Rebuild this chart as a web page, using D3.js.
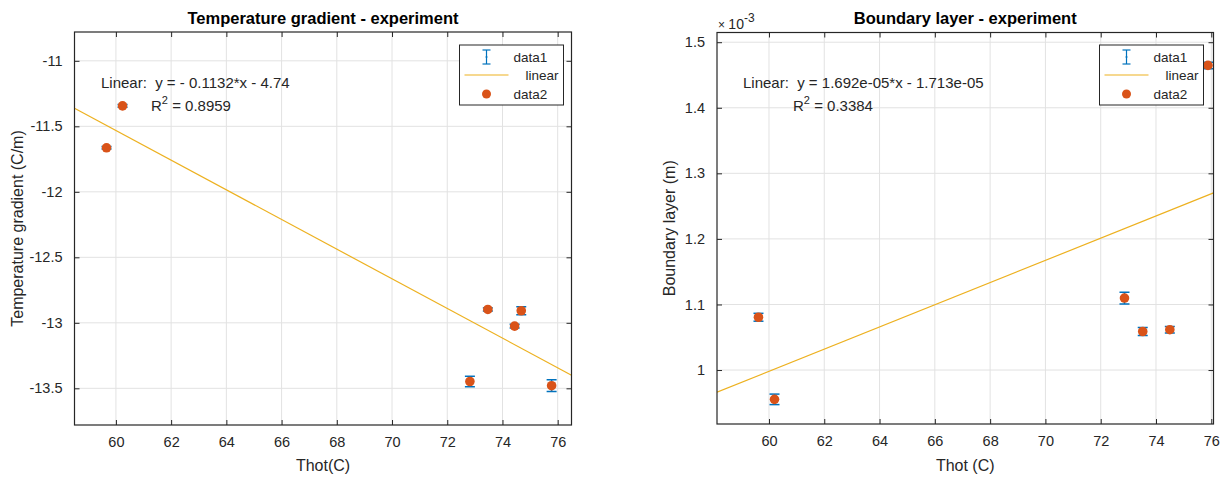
<!DOCTYPE html>
<html>
<head>
<meta charset="utf-8">
<script src="https://cdn.jsdelivr.net/npm/d3@7"></script>
<style>
  body { margin: 0; background: #fff; }
  svg { display: block; font-family: "Liberation Sans", Arial, Helvetica, sans-serif; }
</style>
</head>
<body>
<svg id="chart" width="1223" height="477"></svg>
<script>
// ---------- data ----------
const gradThot  = [59.66, 60.24, 72.82, 73.47, 74.44, 74.68, 75.78];
const gradValue = [-11.664, -11.344, -13.448, -12.898, -13.025, -12.908, -13.48];
const gradError = [0.010, 0.010, 0.040, 0.012, 0.014, 0.030, 0.045];
const gradFit = { slope: -0.1132, intercept: -4.74 };
const gradXTicks = [60, 62, 64, 66, 68, 70, 72, 74, 76];
const gradYTicks = [-11, -11.5, -12, -12.5, -13, -13.5];
const gradYTickLabels = ["-11", "-11.5", "-12", "-12.5", "-13", "-13.5"];

const blThot  = [59.62, 60.2, 72.86, 73.52, 74.5, 75.88];
const blValue = [1.0805e-3, 0.9553e-3, 1.1098e-3, 1.0588e-3, 1.0615e-3, 1.4646e-3];
const blError = [0.006e-3, 0.008e-3, 0.009e-3, 0.006e-3, 0.005e-3, 0.005e-3];
const blFit = { slope: 1.692e-05, intercept: -1.713e-05 };
const blXTicks = [60, 62, 64, 66, 68, 70, 72, 74, 76];
const blYTicks = [1.0e-3, 1.1e-3, 1.2e-3, 1.3e-3, 1.4e-3, 1.5e-3];
const blYTickLabels = ["1", "1.1", "1.2", "1.3", "1.4", "1.5"];

const legendLabels = ["data1", "linear", "data2"];

// ---------- styles ----------
const C_ERR = "#0072BD", C_DOT = "#D95319", C_FIT = "#EDB120";
const C_AX = "#262626", C_GRID = "#e2e2e2", C_TXT = "#262626";
const FS_TICK = 14.5, FS_TITLE = 16.5, FS_LABEL = 16, FS_ANN = 15, FS_LEG = 13.5;

const svg = d3.select("#chart");

function panel(cfg) {
  const g = svg.append("g");
  const x = d3.scaleLinear().domain(cfg.xDomain).range([cfg.left, cfg.right]);
  const y = d3.scaleLinear().domain(cfg.yDomain).range([cfg.bottom, cfg.top]);

  // grid
  g.append("g").selectAll("line").data(cfg.xTicks).join("line")
    .attr("x1", d => x(d)).attr("x2", d => x(d))
    .attr("y1", cfg.top).attr("y2", cfg.bottom)
    .attr("stroke", C_GRID).attr("stroke-width", 1);
  g.append("g").selectAll("line").data(cfg.yTicks).join("line")
    .attr("y1", d => y(d)).attr("y2", d => y(d))
    .attr("x1", cfg.left).attr("x2", cfg.right)
    .attr("stroke", C_GRID).attr("stroke-width", 1);

  // clip
  const clipId = "clip" + cfg.id;
  svg.append("clipPath").attr("id", clipId).append("rect")
    .attr("x", cfg.left).attr("y", cfg.top)
    .attr("width", cfg.right - cfg.left).attr("height", cfg.bottom - cfg.top);

  const plot = g.append("g").attr("clip-path", `url(#${clipId})`);

  // fit line
  const fx = cfg.xDomain;
  plot.append("line")
    .attr("x1", x(fx[0])).attr("y1", y(cfg.fit.slope * fx[0] + cfg.fit.intercept))
    .attr("x2", x(fx[1])).attr("y2", y(cfg.fit.slope * fx[1] + cfg.fit.intercept))
    .attr("stroke", C_FIT).attr("stroke-width", 1.2);

  const pts = cfg.xs.map((xv, i) => ({ x: xv, y: cfg.ys[i], e: cfg.es[i] }));
  // error bars
  const eb = plot.append("g").selectAll("g").data(pts).join("g")
    .attr("stroke", C_ERR).attr("stroke-width", 1.5);
  eb.append("line").attr("x1", d => x(d.x)).attr("x2", d => x(d.x))
    .attr("y1", d => y(d.y - d.e)).attr("y2", d => y(d.y + d.e));
  eb.append("line").attr("x1", d => x(d.x) - 5).attr("x2", d => x(d.x) + 5)
    .attr("y1", d => y(d.y - d.e)).attr("y2", d => y(d.y - d.e));
  eb.append("line").attr("x1", d => x(d.x) - 5).attr("x2", d => x(d.x) + 5)
    .attr("y1", d => y(d.y + d.e)).attr("y2", d => y(d.y + d.e));
  // dots
  plot.append("g").selectAll("circle").data(pts).join("circle")
    .attr("cx", d => x(d.x)).attr("cy", d => y(d.y)).attr("r", 4.8)
    .attr("fill", C_DOT);

  // box
  g.append("rect").attr("x", cfg.left).attr("y", cfg.top)
    .attr("width", cfg.right - cfg.left).attr("height", cfg.bottom - cfg.top)
    .attr("fill", "none").attr("stroke", C_AX).attr("stroke-width", 1.2);

  // axes (ticks inward) using d3 axes
  const xAxis = d3.axisBottom(x).tickValues(cfg.xTicks).tickSize(-5).tickPadding(12)
    .tickFormat(d3.format("d"));
  const xg = g.append("g").attr("transform", `translate(0,${cfg.bottom})`).call(xAxis);
  const xTop = d3.axisTop(x).tickValues(cfg.xTicks).tickSize(-5).tickFormat("");
  const xtg = g.append("g").attr("transform", `translate(0,${cfg.top})`).call(xTop);
  const yAxis = d3.axisLeft(y).tickValues(cfg.yTicks).tickSize(-5).tickPadding(12)
    .tickFormat((d, i) => cfg.yLabels[i]);
  const yg = g.append("g").attr("transform", `translate(${cfg.left},0)`).call(yAxis);
  const yRight = d3.axisRight(y).tickValues(cfg.yTicks).tickSize(-5).tickFormat("");
  const yrg = g.append("g").attr("transform", `translate(${cfg.right},0)`).call(yRight);
  [xg, xtg, yg, yrg].forEach(a => {
    a.select(".domain").remove();
    a.selectAll(".tick line").attr("stroke", C_AX).attr("stroke-width", 1);
    a.selectAll(".tick text").attr("fill", C_TXT).attr("font-size", FS_TICK)
      .attr("font-family", "Liberation Sans, Arial, sans-serif");
  });

  // title
  g.append("text").attr("x", (cfg.left + cfg.right) / 2).attr("y", 24)
    .attr("text-anchor", "middle").attr("font-weight", "bold").attr("font-size", FS_TITLE)
    .attr("fill", "#000").text(cfg.title);
  // x label
  g.append("text").attr("x", (cfg.left + cfg.right) / 2).attr("y", 471)
    .attr("text-anchor", "middle").attr("font-size", FS_LABEL).attr("fill", C_TXT).text(cfg.xLabel);
  // y label
  g.append("text")
    .attr("transform", `translate(${cfg.yLabelX},${(cfg.top + cfg.bottom) / 2}) rotate(-90)`)
    .attr("text-anchor", "middle").attr("font-size", FS_LABEL).attr("fill", C_TXT).text(cfg.yLabel);

  // annotation
  g.append("text").attr("x", cfg.annX).attr("y", 87.5).attr("font-size", FS_ANN)
    .attr("fill", C_TXT).attr("xml:space", "preserve").text(cfg.eq);
  const r = g.append("text").attr("x", cfg.annX + cfg.rOff).attr("y", 110.5)
    .attr("font-size", FS_ANN).attr("fill", C_TXT);
  r.append("tspan").text("R");
  r.append("tspan").attr("dy", -7).attr("font-size", 11).text("2");
  r.append("tspan").attr("dy", 7).text(" = " + cfg.r2);

  // legend
  const lx = cfg.legX, ly = 45, lw = 104, lh = 60;
  const lg = g.append("g");
  lg.append("rect").attr("x", lx).attr("y", ly).attr("width", lw).attr("height", lh)
    .attr("fill", "#fff").attr("stroke", C_AX).attr("stroke-width", 1);
  const ix = lx + 27;
  // errorbar icon
  lg.append("line").attr("x1", ix).attr("x2", ix).attr("y1", ly + 5).attr("y2", ly + 19)
    .attr("stroke", C_ERR).attr("stroke-width", 1.2);
  lg.append("line").attr("x1", ix - 4).attr("x2", ix + 4).attr("y1", ly + 5).attr("y2", ly + 5)
    .attr("stroke", C_ERR).attr("stroke-width", 1.2);
  lg.append("line").attr("x1", ix - 4).attr("x2", ix + 4).attr("y1", ly + 19).attr("y2", ly + 19)
    .attr("stroke", C_ERR).attr("stroke-width", 1.2);
  lg.append("circle").attr("cx", ix).attr("cy", ly + 12).attr("r", 1).attr("fill", C_ERR);
  // line icon
  lg.append("line").attr("x1", lx + 5).attr("x2", lx + 49).attr("y1", ly + 30).attr("y2", ly + 30)
    .attr("stroke", C_FIT).attr("stroke-width", 1.2);
  // dot icon
  lg.append("circle").attr("cx", ix).attr("cy", ly + 49).attr("r", 4.5).attr("fill", C_DOT);
  const labelX = [lx + 54, lx + 66, lx + 54];
  const labelY = [ly + 17, ly + 35, ly + 54];
  lg.selectAll("text").data(legendLabels).join("text")
    .attr("x", (d, i) => labelX[i]).attr("y", (d, i) => labelY[i])
    .attr("font-size", FS_LEG).attr("fill", C_TXT).text(d => d);

  if (cfg.exponent) {
    const t = g.append("text").attr("x", cfg.left + 1).attr("y", 28.5).attr("font-size", 14)
      .attr("fill", C_TXT).attr("xml:space", "preserve");
    t.append("tspan").attr("font-size", 12).text("\u00d7 ");
    t.append("tspan").text("10");
    t.append("tspan").attr("dy", -7).attr("font-size", 12).text(cfg.exponent);
  }
}

panel({
  id: "a", left: 74.5, right: 571.5, top: 32, bottom: 425,
  xDomain: [58.5, 76.5], yDomain: [-13.78, -10.78],
  xTicks: gradXTicks, yTicks: gradYTicks, yLabels: gradYTickLabels,
  xs: gradThot, ys: gradValue, es: gradError, fit: gradFit,
  title: "Temperature gradient - experiment", xLabel: "Thot(C)",
  yLabel: "Temperature gradient (C/m)", yLabelX: 23,
  annX: 101, rOff: 50, eq: "Linear:  y = - 0.1132*x - 4.74", r2: "0.8959",
  legX: 459.5
});

panel({
  id: "b", left: 717, right: 1213.5, top: 32.5, bottom: 424,
  xDomain: [58.12, 76.08], yDomain: [0.9177e-3, 1.5148e-3],
  xTicks: blXTicks, yTicks: blYTicks, yLabels: blYTickLabels,
  xs: blThot, ys: blValue, es: blError, fit: blFit,
  title: "Boundary layer - experiment", xLabel: "Thot (C)",
  yLabel: "Boundary layer (m)", yLabelX: 675,
  annX: 743, rOff: 50, eq: "Linear:  y = 1.692e-05*x - 1.713e-05", r2: "0.3384",
  legX: 1099.5, exponent: "-3"
});
</script>
</body>
</html>
